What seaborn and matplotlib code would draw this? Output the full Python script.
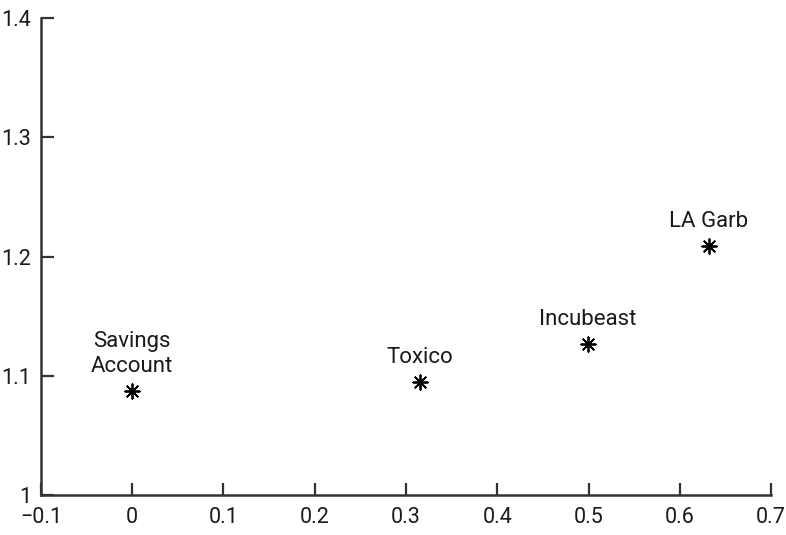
import numpy as np
import pandas as pd
import seaborn as sns
import matplotlib.pyplot as plt

names = ['Savings\nAccount', 'Toxico', 'Incubeast', 'LA Garb']
x_vals = [0.0, 0.315, 0.499, 0.632]
y_vals = [1.087, 1.095, 1.127, 1.209]
x_ticks = [-0.1, 0, 0.1, 0.2, 0.3, 0.4, 0.5, 0.6, 0.7]
x_labels = ['\u22120.1', '0', '0.1', '0.2', '0.3', '0.4', '0.5', '0.6', '0.7']
y_ticks = [1, 1.1, 1.2, 1.3, 1.4]
y_labels = ['1', '1.1', '1.2', '1.3', '1.4']

df = pd.DataFrame({'name': names, 'x': x_vals, 'y': y_vals})

sns.set_theme(style='ticks')
plt.rcParams['font.family'] = ['Roboto', 'DejaVu Sans']

fig = plt.figure(figsize=(7.86, 5.35), dpi=100)
ax = fig.add_axes([0.052, 0.075, 0.929, 0.891])

sns.scatterplot(data=df, x='x', y='y', ax=ax, marker=(8, 2, 0), s=110,
                color='black', linewidth=1.3, edgecolor='black')

for _, r in df.iterrows():
    ax.annotate(r['name'], (r['x'], r['y']), xytext=(0, 13.5), textcoords='offset points',
                ha='center', va='baseline', fontsize=16, color='#1a1a1a', linespacing=1.3)

ax.set_xlim(-0.1, 0.7)
ax.set_ylim(1, 1.4)
ax.set_xticks(x_ticks)
ax.set_xticklabels(x_labels)
ax.set_yticks(y_ticks)
ax.set_yticklabels(y_labels)
ax.set_xlabel('')
ax.set_ylabel('')
sns.despine(ax=ax)
for s in ['left', 'bottom']:
    ax.spines[s].set_color('#333333')
    ax.spines[s].set_linewidth(1.8)
ax.tick_params(direction='in', length=9, width=1.6, color='#333333',
               labelsize=15.5, labelcolor='#1a1a1a')
ax.tick_params(axis='x', pad=9)
ax.tick_params(axis='y', pad=7)

fig.savefig('out.png', dpi=100)
